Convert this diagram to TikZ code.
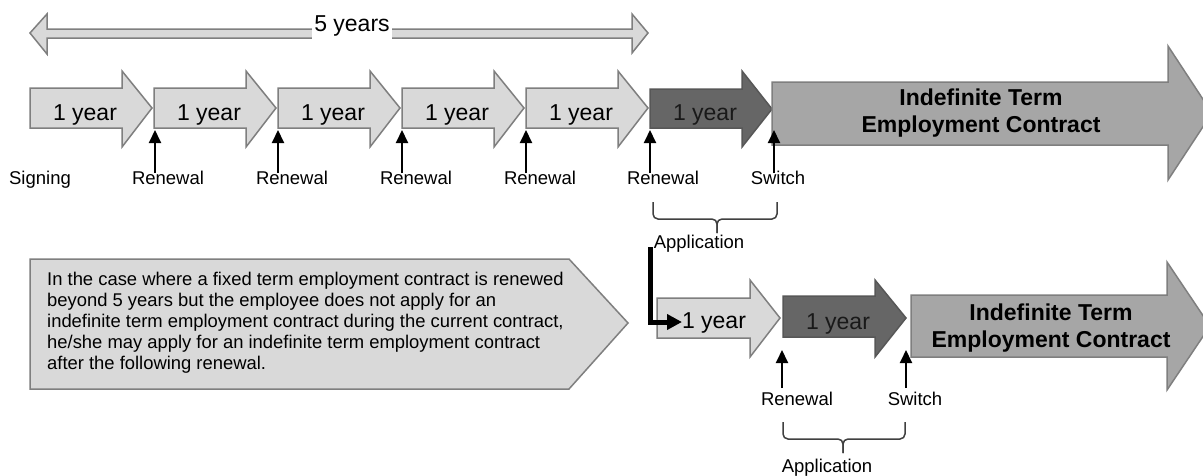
\documentclass[tikz,border=0pt]{standalone}
\usepackage{fontspec}
\setmainfont{Liberation Sans}
\usetikzlibrary{arrows.meta}
\definecolor{lightfill}{HTML}{D9D9D9}
\definecolor{edgegray}{HTML}{7F7F7F}
\definecolor{darkfill}{HTML}{666666}
\definecolor{midfill}{HTML}{A6A6A6}
\begin{document}
\begin{tikzpicture}[x=1pt,y=-1pt,
  lightarrow/.style={fill=lightfill, draw=edgegray, line width=1.5pt, line join=miter},
  darkarrow/.style={fill=darkfill, draw=darkfill!85!black, line width=1.5pt, line join=miter},
  bigarrow/.style={fill=midfill, draw=edgegray, line width=1.5pt, line join=miter},
  yeartext/.style={font=\fontsize{23}{27}\selectfont, anchor=base, inner sep=0pt},
  bigtext/.style={font=\bfseries\fontsize{23}{27}\selectfont, anchor=base, inner sep=0pt},
  lbl/.style={font=\fontsize{18.5}{22}\selectfont, anchor=base, inner sep=0pt},
  boxtext/.style={font=\fontsize{18.4}{21}\selectfont, anchor=base west, inner sep=0pt},
  uparrow/.style={line width=2pt, -{Triangle[width=12pt,length=13pt]}},
  bracepath/.style={draw=black!75, line width=1.5pt, rounded corners=5pt}]
\clip (0,0) rectangle (1203,475);
\fill[white] (0,0) rectangle (1203,475);

% top double arrow
\draw[lightarrow] (30,33) -- (47,14) -- (47,29) -- (632,29) -- (632,14) -- (648,33)
  -- (632,53) -- (632,38) -- (47,38) -- (47,54) -- cycle;
\node[yeartext, fill=white, inner xsep=2pt, text height=16pt, text depth=8pt] (fiveyears) at (352,31) {5 years};

% row 1 light arrows
\foreach \x/\n in {30/a,154/b,278/c,402/d,526/e}{
  \draw[lightarrow] (\x,88) -- ({\x+92},88) -- ({\x+92},71) -- ({\x+122},108)
    -- ({\x+92},147) -- ({\x+92},128) -- (\x,128) -- cycle;
  \node[yeartext] (year\n) at ({\x+55},120) {1 year};
}
% row 1 dark arrow
\draw[darkarrow] (650,89) -- (742,89) -- (742,71) -- (772,109) -- (742,147) -- (742,128) -- (650,128) -- cycle;
\node[yeartext, text=black!90] (yearf) at (705,120) {1 year};
% row 1 big arrow
\draw[bigarrow] (772,82) -- (1168,82) -- (1168,46) -- (1212,113) -- (1168,180) -- (1168,145) -- (772,145) -- cycle;
\node[bigtext] (indefA1) at (981,105) {Indefinite Term};
\node[bigtext] (indefA2) at (981,132) {Employment Contract};

% row 1 labels
\node[lbl] (signing) at (40,184) {Signing};
\foreach \x/\n in {168/b,292/c,416/d,540/e,663/f}{
  \node[lbl] (ren\n) at (\x,184) {Renewal};
}
\node[lbl] (switchA) at (778,184) {Switch};

% row 1 up arrows
\foreach \x/\n in {155/b,278/c,402/d,526/e,650/f,774/g}{
  \coordinate (ub\n) at (\x,173);
  \coordinate (ut\n) at (\x,130);
  \draw[uparrow] (ub\n) -- (ut\n);
}

% row 1 brace
\coordinate (brA1) at (653,202);
\coordinate (brA2) at (777,202);
\coordinate (brAt) at (717,233);
\draw[bracepath] (brA1) |- (brAt |- 0,219) -- (brAt);
\draw[bracepath] (brA2) |- (brAt |- 0,219) -- (brAt);
\node[lbl] (appA) at (699,248) {Application};

% text box
\draw[lightarrow] (30,259) -- (569,259) -- (628,323) -- (569,389) -- (30,389) -- cycle;
\node[boxtext] (t1) at (47,285) {In the case where a fixed term employment contract is renewed};
\node[boxtext] (t2) at (47,306) {beyond 5 years but the employee does not apply for an};
\node[boxtext] (t3) at (47,327) {indefinite term employment contract during the current contract,};
\node[boxtext] (t4) at (47,348) {he/she may apply for an indefinite term employment contract};
\node[boxtext] (t5) at (47,369) {after the following renewal.};

% row 2 arrows
\draw[lightarrow] (657,298) -- (750,298) -- (750,280) -- (780,318) -- (750,357) -- (750,338) -- (657,338) -- cycle;
\draw[darkarrow] (783,296) -- (875,296) -- (875,280) -- (906,318) -- (875,357) -- (875,337) -- (783,337) -- cycle;
\draw[bigarrow] (911,295) -- (1167,295) -- (1167,262) -- (1210,326) -- (1167,390) -- (1167,357) -- (911,357) -- cycle;
\node[yeartext] (yearg) at (714,328) {1 year};
\node[yeartext, text=black!90] (yearh) at (838,329) {1 year};
\node[bigtext] (indefB1) at (1051,320) {Indefinite Term};
\node[bigtext] (indefB2) at (1051,347) {Employment Contract};

% L-shaped arrow
\coordinate (lstart) at (650,247);
\coordinate (lend) at (682,322);
\draw[line width=5pt, line join=miter, -{Triangle[width=15pt,length=15pt]}] (lstart) |- (lend);

% row 2 up arrows and labels
\coordinate (ubh) at (782,388); \coordinate (uth) at (782,350);
\coordinate (ubi) at (906,388); \coordinate (uti) at (906,350);
\draw[uparrow] (ubh) -- (uth);
\draw[uparrow] (ubi) -- (uti);
\node[lbl] (renh) at (797,405) {Renewal};
\node[lbl] (switchB) at (915,405) {Switch};

% row 2 brace
\coordinate (brB1) at (783,422);
\coordinate (brB2) at (905,422);
\coordinate (brBt) at (843,453);
\draw[bracepath] (brB1) |- (brBt |- 0,439) -- (brBt);
\draw[bracepath] (brB2) |- (brBt |- 0,439) -- (brBt);
\node[lbl] (appB) at (827,472) {Application};
\end{tikzpicture}
\end{document}
